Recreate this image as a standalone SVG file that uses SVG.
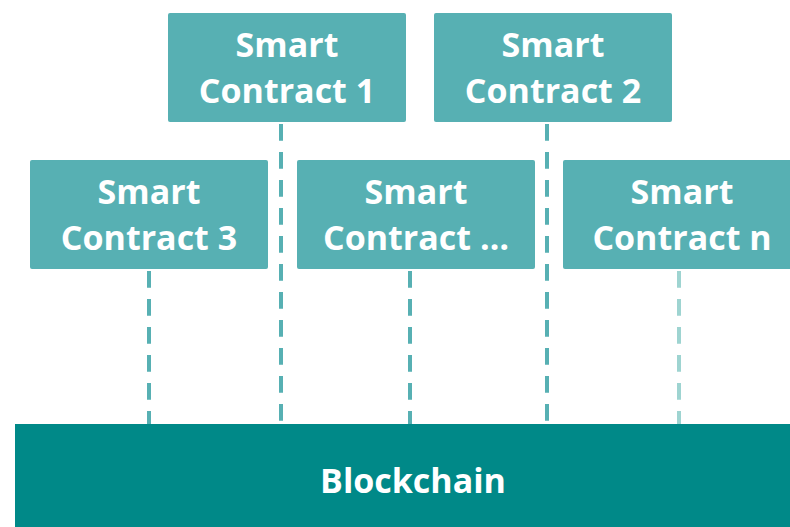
<svg xmlns="http://www.w3.org/2000/svg" width="790" height="527" viewBox="0 0 790 527">
<style>
.box{fill:#57b0b3;}
.lbl{fill:#ffffff;font-family:"Open Sans","Noto Sans","DejaVu Sans",sans-serif;font-weight:bold;font-size:34px;text-anchor:middle;}
.dash{stroke:#57b0b3;stroke-width:4;stroke-dasharray:16.7 11.3;fill:none;}
</style>
<rect width="790" height="527" fill="#ffffff"/>
<g id="connectors">
<line class="dash" x1="281" y1="122" x2="281" y2="424" stroke-dashoffset="-2"/>
<line class="dash" x1="547" y1="122" x2="547" y2="424" stroke-dashoffset="-2"/>
<line class="dash" x1="149" y1="269" x2="149" y2="424" stroke-dashoffset="-2"/>
<line class="dash" x1="410" y1="269" x2="410" y2="424" stroke-dashoffset="-2"/>
<line class="dash" x1="679" y1="269" x2="679" y2="424" stroke-dashoffset="-2" style="stroke:#9ed4d1"/>
</g>
<g id="sc1">
<rect class="box" x="168" y="13" width="238" height="109" rx="2"/>
<text class="lbl" x="287" y="57">Smart</text>
<text class="lbl" x="287" y="103">Contract 1</text>
</g>
<g id="sc2">
<rect class="box" x="434" y="13" width="238" height="109" rx="2"/>
<text class="lbl" x="553" y="57">Smart</text>
<text class="lbl" x="553" y="103">Contract 2</text>
</g>
<g id="sc3">
<rect class="box" x="30" y="160" width="238" height="109" rx="2"/>
<text class="lbl" x="149" y="204">Smart</text>
<text class="lbl" x="149" y="250">Contract 3</text>
</g>
<g id="scdots">
<rect class="box" x="297" y="160" width="238" height="109" rx="2"/>
<text class="lbl" x="416" y="204">Smart</text>
<text class="lbl" x="416" y="250">Contract …</text>
</g>
<g id="scn">
<rect class="box" x="563" y="160" width="238" height="109" rx="2"/>
<text class="lbl" x="682" y="204">Smart</text>
<text class="lbl" x="682" y="250">Contract n</text>
</g>
<g id="blockchain">
<rect x="15" y="424" width="790" height="110" fill="#008988"/>
<text class="lbl" x="413" y="493">Blockchain</text>
</g>
</svg>
